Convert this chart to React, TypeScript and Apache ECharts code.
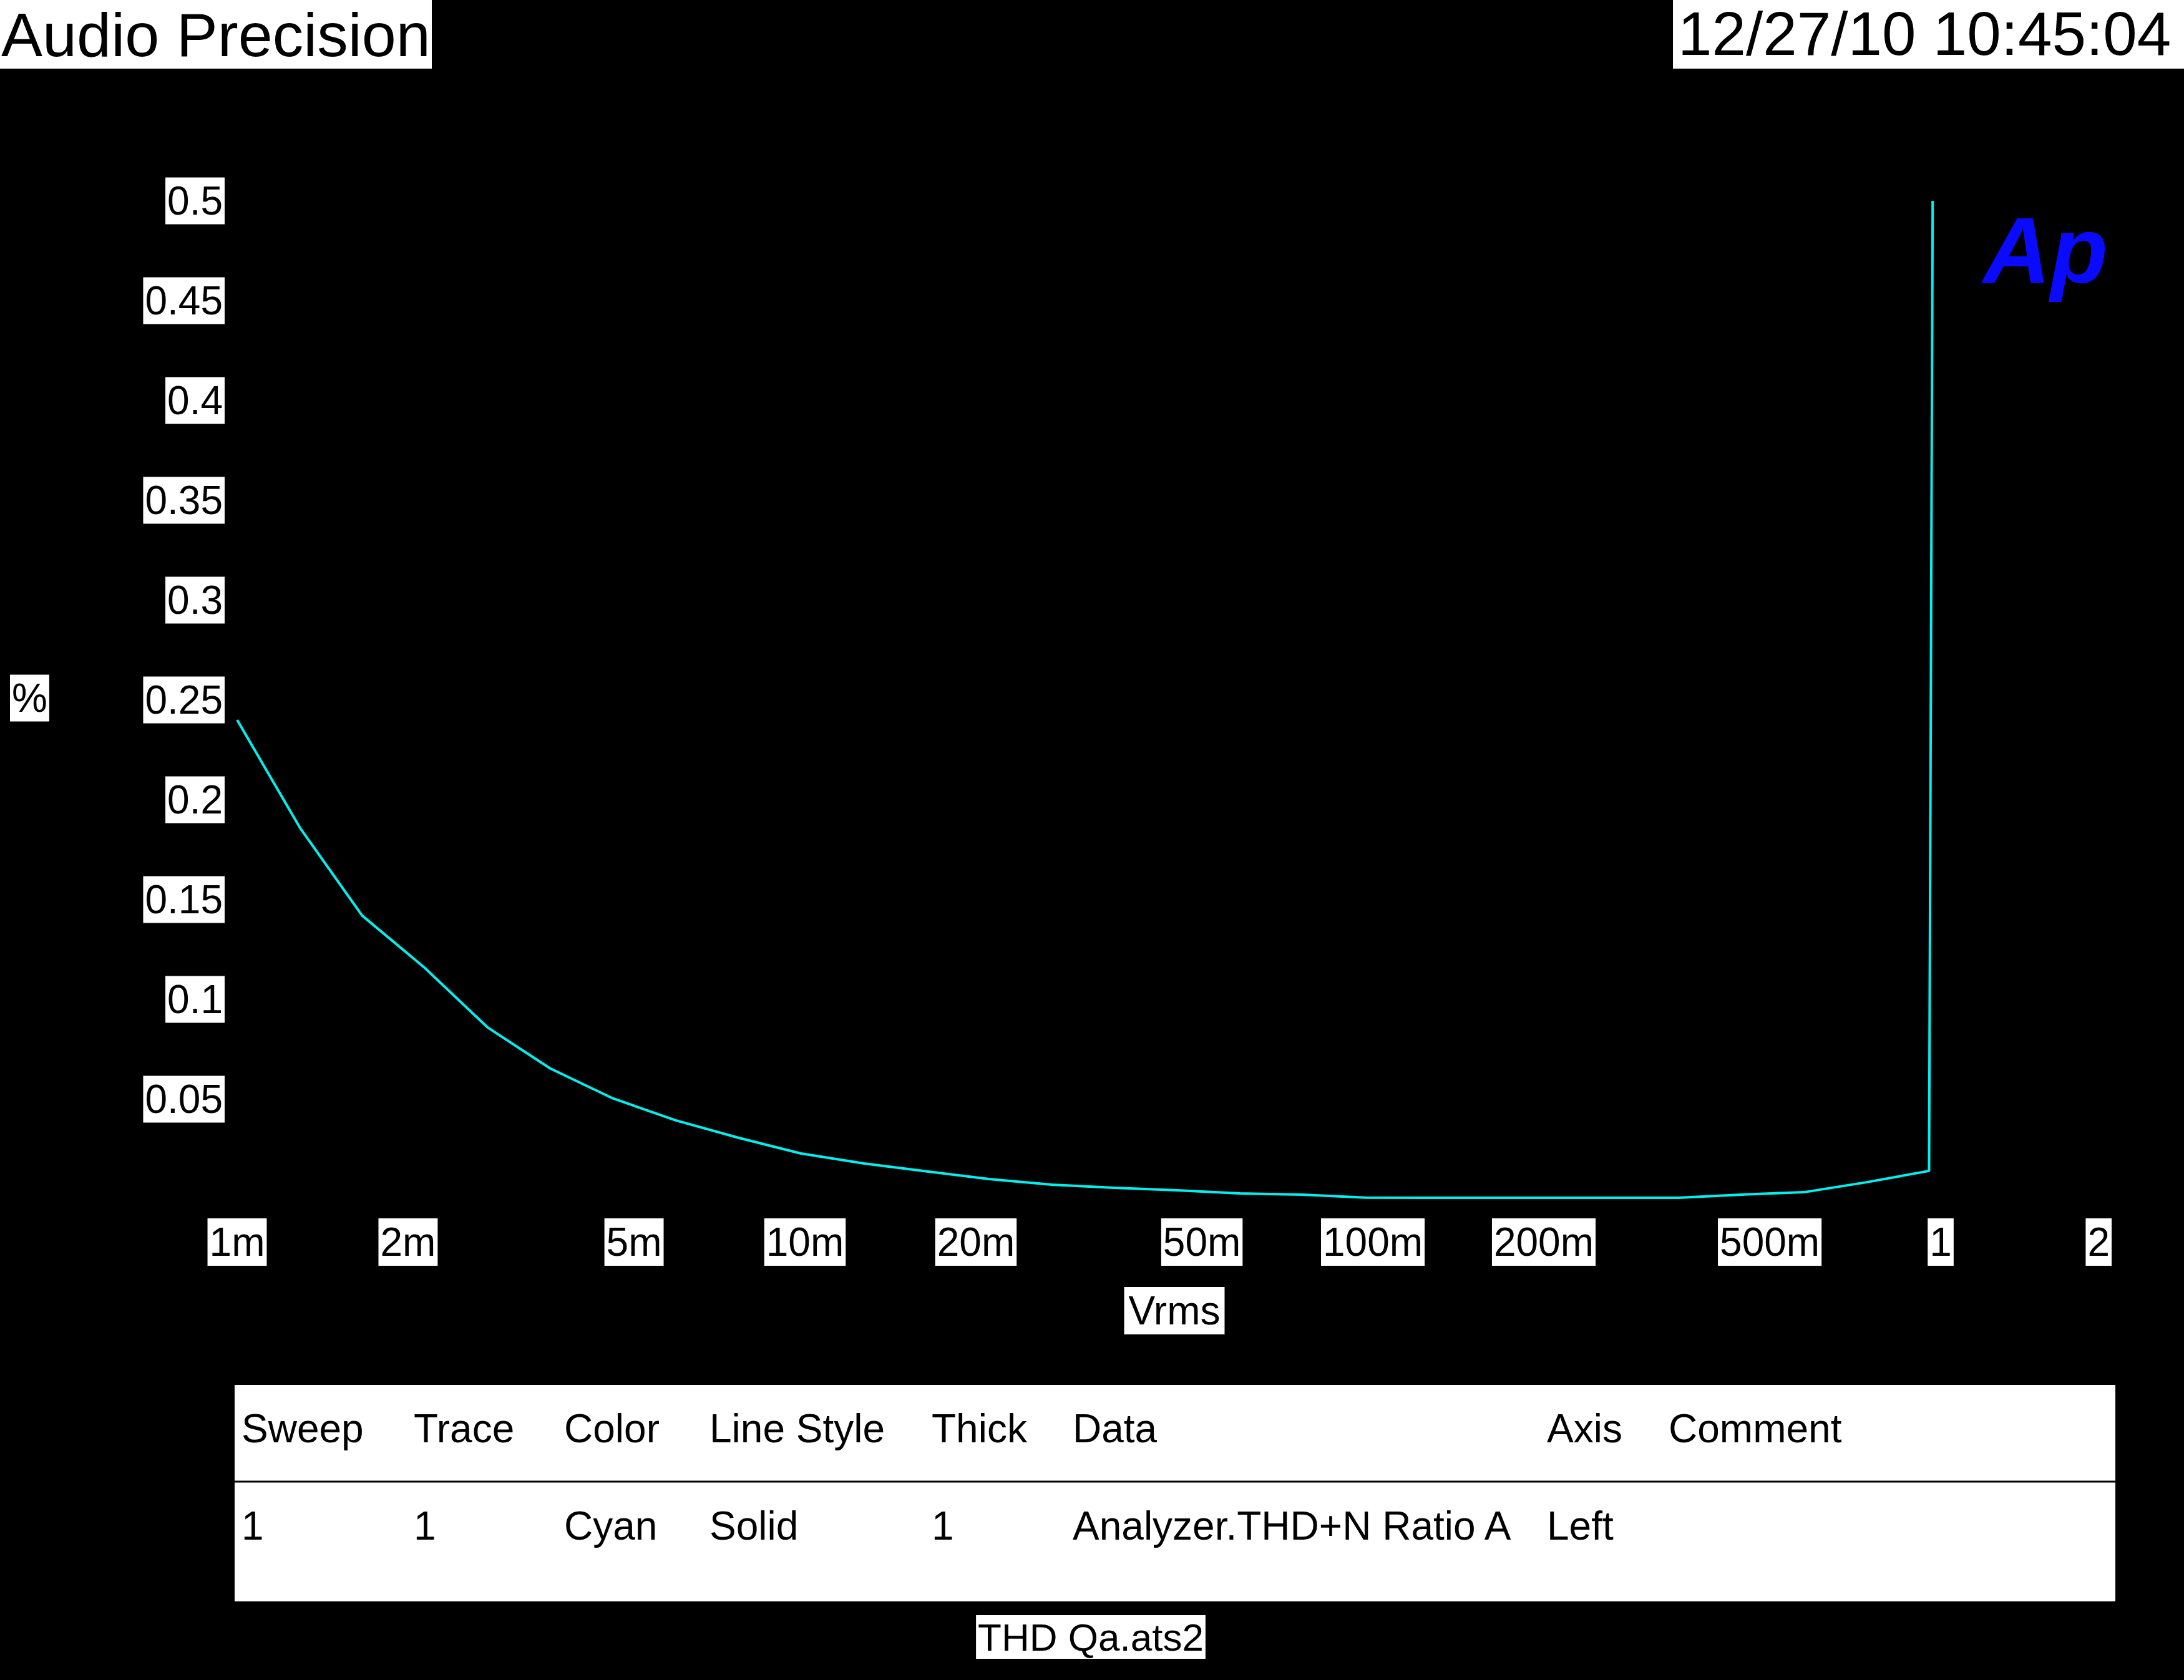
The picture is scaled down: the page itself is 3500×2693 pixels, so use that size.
import React, { useEffect, useRef } from "react";
import * as echarts from "echarts";

// ---- data ----
const sweepVrms = [
  0.001, 0.00129, 0.00166, 0.00214, 0.00276, 0.00356, 0.00459, 0.00592, 0.00763, 0.00984,
  0.0127, 0.0164, 0.0211, 0.0272, 0.0351, 0.0452, 0.0583, 0.0752, 0.0969, 0.125,
  0.161, 0.208, 0.268, 0.345, 0.445, 0.574, 0.74, 0.954, 0.968,
];
const thdnPercent = [
  0.24, 0.186, 0.142, 0.1158, 0.086, 0.0654, 0.0504, 0.0394, 0.0307, 0.0228,
  0.0178, 0.0138, 0.01, 0.0072, 0.0056, 0.0044, 0.0028, 0.0022, 0.0007, 0.0006,
  0.0006, 0.0006, 0.0006, 0.0006, 0.0022, 0.0034, 0.0084, 0.0141, 0.5,
];
const xTickValues = [0.001, 0.002, 0.005, 0.01, 0.02, 0.05, 0.1, 0.2, 0.5, 1, 2];
const xTickLabels = ["1m", "2m", "5m", "10m", "20m", "50m", "100m", "200m", "500m", "1", "2"];
const yMin = 0;
const yMax = 0.5;
const yStep = 0.05;
const xMin = 0.001;
const xMax = 2;
const tableHeaders = ["Sweep", "Trace", "Color", "Line Style", "Thick", "Data", "Axis", "Comment"];
const tableRow = ["1", "1", "Cyan", "Solid", "1", "Analyzer.THD+N Ratio A", "Left", ""];
const titleText = "Audio Precision";
const dateText = "12/27/10 10:45:04";
const fileText = "THD Qa.ats2";
const yAxisName = "%";
const xAxisName = "Vrms";
const logoText = "Ap";

const FONT = "'Liberation Sans', Arial, Helvetica, sans-serif";

export default function App() {
  const ref = useRef<HTMLDivElement>(null);

  useEffect(() => {
    document.body.style.margin = "0";
    const chart = echarts.init(ref.current!, null, { renderer: "svg", width: 3500, height: 2693 });

    const gridLeft = 380;
    const gridTop = 322;
    const gridWidth = 3004;
    const gridHeight = 1600;

    chart.setOption({
      animation: false,
      backgroundColor: "#000000",
      grid: {
        left: gridLeft,
        top: gridTop,
        width: gridWidth,
        height: gridHeight,
        containLabel: false,
        outerBoundsMode: "none",
      },
      xAxis: {
        type: "log",
        logBase: 10,
        min: xMin,
        max: xMax,
        axisLine: { show: false },
        axisTick: { show: false },
        axisLabel: { show: false },
        splitLine: { show: false },
        minorTick: { show: false },
        minorSplitLine: { show: false },
      },
      yAxis: {
        type: "value",
        min: yMin,
        max: yMax,
        interval: yStep,
        axisLine: { show: false },
        axisTick: { show: false },
        splitLine: { show: false },
        axisLabel: {
          show: true,
          showMinLabel: false,
          showMaxLabel: true,
          margin: 20,
          color: "#000000",
          backgroundColor: "#ffffff",
          padding: [6, 3, 5, 3],
          fontSize: 64,
          lineHeight: 64,
          fontFamily: FONT,
          formatter: (v: number) => String(parseFloat(v.toFixed(2))),
        },
      },
      series: [
        {
          type: "line",
          data: sweepVrms.map((x, i) => [x, thdnPercent[i]]),
          showSymbol: false,
          symbol: "none",
          clip: true,
          lineStyle: { color: "#00f0f0", width: 4 },
        },
      ],
    });

    const xPix = (v: number) => chart.convertToPixel({ xAxisIndex: 0 }, v) as number;
    const yPix = (v: number) => chart.convertToPixel({ yAxisIndex: 0 }, v) as number;
    const plotBottom = yPix(yMin);
    const plotTop = yPix(yMax);
    const plotLeft = xPix(xMin);
    const plotRight = xPix(xMax);

    const labelStyle = {
      fill: "#000000",
      backgroundColor: "#ffffff",
      fontSize: 64,
      lineHeight: 64,
      fontFamily: FONT,
      verticalAlign: "middle",
    };

    const elements: any[] = [];

    // title boxes
    elements.push({ type: "rect", shape: { x: 0, y: 0, width: 692, height: 110 }, style: { fill: "#ffffff" } });
    elements.push({
      type: "text", x: 2, y: 55,
      style: { text: titleText, fill: "#000", fontSize: 99, fontFamily: FONT, verticalAlign: "middle", align: "left" },
    });
    elements.push({ type: "rect", shape: { x: 2681, y: 0, width: 819, height: 110 }, style: { fill: "#ffffff" } });
    elements.push({
      type: "text", x: 2689, y: 54,
      style: { text: dateText, fill: "#000", fontSize: 98, fontFamily: FONT, verticalAlign: "middle", align: "left" },
    });

    // x tick labels
    xTickValues.forEach((v, i) => {
      const last = i === xTickValues.length - 1;
      elements.push({
        type: "text",
        x: xPix(v),
        y: plotBottom + 69,
        style: { ...labelStyle, text: xTickLabels[i], align: last ? "right" : "center", padding: [6, 3, 6, 3] },
      });
    });

    // axis names
    elements.push({
      type: "text",
      x: (plotLeft + plotRight) / 2,
      y: plotBottom + 179,
      style: { ...labelStyle, text: xAxisName, align: "center", padding: [6, 7, 6, 7] },
    });
    elements.push({
      type: "text",
      x: 16,
      y: (plotTop + plotBottom) / 2 - 3,
      style: { ...labelStyle, text: yAxisName, align: "left", padding: [6, 3, 5, 3] },
    });

    // logo
    elements.push({
      type: "text", x: 3178, y: 401,
      style: { text: logoText, fill: "#0a0aff", fontSize: 150, fontWeight: "bold", fontStyle: "italic", fontFamily: FONT, verticalAlign: "middle", align: "left" },
    });

    // legend table
    const tX = 376, tY = 2220, tW = 3014, tH = 347;
    elements.push({ type: "rect", shape: { x: tX, y: tY, width: tW, height: tH }, style: { fill: "#ffffff" } });
    elements.push({ type: "line", shape: { x1: tX, y1: 2375, x2: tX + tW, y2: 2375 }, style: { stroke: "#000000", lineWidth: 3 } });
    const colX = [387, 663, 904, 1137, 1493, 1719, 2479, 2674];
    tableHeaders.forEach((h, i) => {
      elements.push({
        type: "text", x: colX[i], y: 2290,
        style: { text: h, fill: "#000", fontSize: 64, fontFamily: FONT, verticalAlign: "middle", align: "left" },
      });
    });
    tableRow.forEach((c, i) => {
      if (!c) return;
      elements.push({
        type: "text", x: colX[i], y: 2446,
        style: { text: c, fill: "#000", fontSize: 64, fontFamily: FONT, verticalAlign: "middle", align: "left" },
      });
    });

    // file name
    elements.push({
      type: "text", x: 1748, y: 2624,
      style: { ...labelStyle, text: fileText, fontSize: 62, lineHeight: 64, align: "center", padding: [3, 3, 3, 3] },
    });

    chart.setOption({ graphic: { elements } });

    return () => chart.dispose();
  }, []);

  return <div ref={ref} style={{ width: 3500, height: 2693, background: "#000" }} />;
}
